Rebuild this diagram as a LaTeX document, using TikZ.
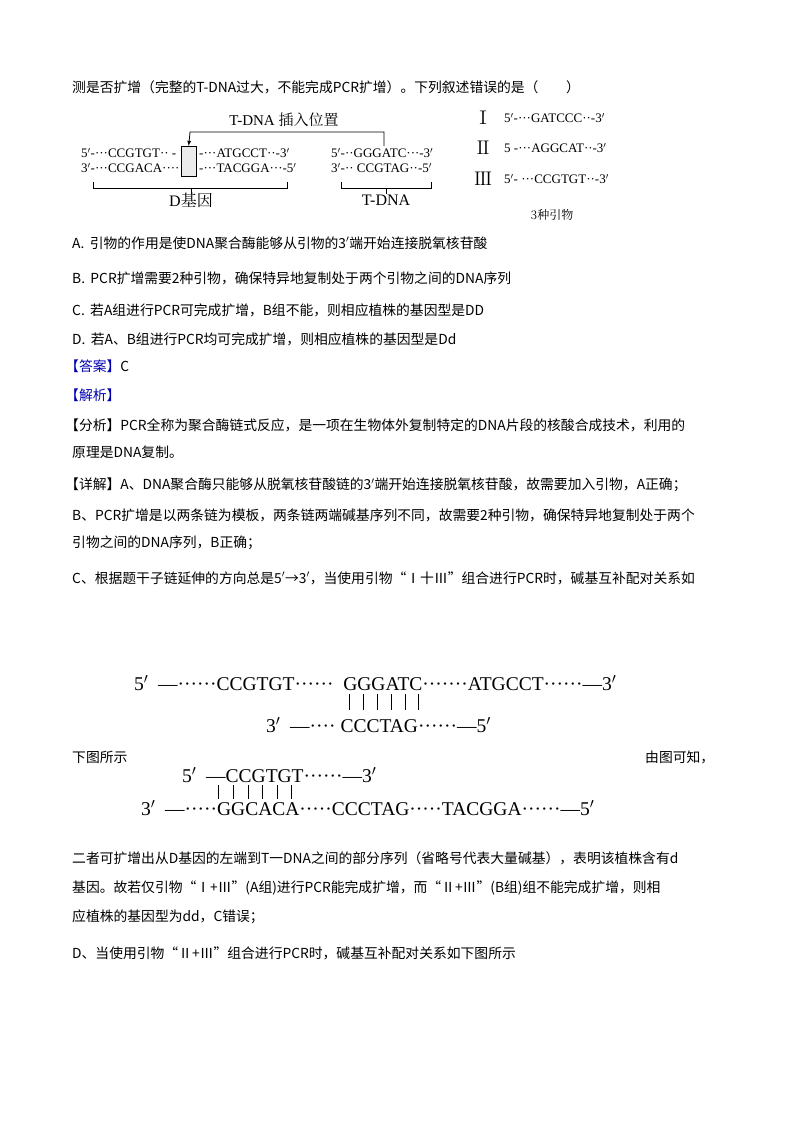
\documentclass[tikz,border=0pt]{standalone}
\usepackage{fontspec}
\setmainfont{Noto Sans CJK SC}
\newfontfamily\ser{Liberation Serif}
\newfontfamily\cser{Noto Serif CJK SC}
\begin{document}
\begin{tikzpicture}[x=1pt,y=-1pt,
  body/.style={anchor=west,inner sep=0pt,font=\fontsize{13.8}{15}\selectfont},
  seq/.style={inner sep=0pt,font=\ser\fontsize{13}{15}\selectfont},
  dna/.style={inner sep=0pt,anchor=west,font=\ser\fontsize{19.5}{21}\selectfont},
  bar/.style={line width=0.6pt},
  brk/.style={line width=0.8pt}]
\useasboundingbox[fill=white] (0,0) rectangle (800,1132);
\node[body] (l0) at (72,87) {测是否扩增（完整的T-DNA过大，不能完成PCR扩增）。下列叙述错误的是（　　）};
% top diagram
\node[seq,anchor=west] (d1) at (81,153) {5$'$-···CCGTGT·· -};
\node[seq,anchor=west] (d2) at (81,168) {3$'$-···CCGACA····};
\node[draw,fill=black!8,minimum width=15pt,minimum height=30pt,inner sep=0pt,anchor=north west] (box) at (181,146) {};
\node[seq,anchor=west] (d3) at (199,153) {-···ATGCCT··-3$'$};
\node[seq,anchor=west] (d4) at (199,168) {-···TACGGA···-5$'$};
\node[seq,anchor=west] (t1) at (331,153) {5$'$-··GGGATC···-3$'$};
\node[seq,anchor=west] (t2) at (331,168) {3$'$-·· CCGTAG··-5$'$};
\coordinate (tt) at (384,146);
\draw[-latex,line width=0.8pt] (tt) -- (384,132) -- (190,132) -- (box.north);
\node[seq,font=\ser\fontsize{15}{17}\selectfont] (ins) at (284,120) {T-DNA \cser 插入位置};
\draw[brk] (93,182) -- (93,188) -- (287,188) -- (287,182);
\draw[brk] (191,188) -- (191,194);
\draw[brk] (341,182) -- (341,188) -- (431,188) -- (431,182);
\draw[brk] (386,188) -- (386,194);
\node[seq,font=\ser\fontsize{16}{18}\selectfont] (dg) at (191,200) {D\cser 基因};
\node[seq,font=\ser\fontsize{16}{18}\selectfont] (td) at (386,200) {T-DNA};
\node[seq,font=\cser\fontsize{18}{20}\selectfont] (r1) at (483,118) {Ⅰ};
\node[seq,font=\cser\fontsize{18}{20}\selectfont] (r2) at (483,148) {Ⅱ};
\node[seq,font=\cser\fontsize{18}{20}\selectfont] (r3) at (483,179) {Ⅲ};
\node[seq,anchor=west] (p1) at (504,118) {5$'$-···GATCCC··-3$'$};
\node[seq,anchor=west] (p2) at (504,148) {5 -···AGGCAT··-3$'$};
\node[seq,anchor=west] (p3) at (504,179) {5$'$- ···CCGTGT··-3$'$};
\node[seq,font=\cser\fontsize{12}{14}\selectfont] (p0) at (552,215) {3种引物};
% options
\node[body] (a) at (72,243) {A.\, 引物的作用是使DNA聚合酶能够从引物的3$'$端开始连接脱氧核苷酸};
\node[body] (b) at (72,278) {B.\, PCR扩增需要2种引物，确保特异地复制处于两个引物之间的DNA序列};
\node[body] (c) at (72,310) {C.\, 若A组进行PCR可完成扩增，B组不能，则相应植株的基因型是DD};
\node[body] (d) at (72,339) {D.\, 若A、B组进行PCR均可完成扩增，则相应植株的基因型是Dd};
\node[body] (ans) at (65,366) {\textcolor{blue!70!black}{【答案】}C};
\node[body] (jx) at (65,395) {\textcolor{blue!70!black}{【解析】}};
\node[body] (fx) at (65,425) {【分析】PCR全称为聚合酶链式反应，是一项在生物体外复制特定的DNA片段的核酸合成技术，利用的};
\node[body] (fx2) at (72,452) {原理是DNA复制。};
\node[body] (xj) at (65,485) {【详解】A、DNA聚合酶只能够从脱氧核苷酸链的3$'$端开始连接脱氧核苷酸，故需要加入引物，A正确；};
\node[body] (xj2) at (72,515) {B、PCR扩增是以两条链为模板，两条链两端碱基序列不同，故需要2种引物，确保特异地复制处于两个};
\node[body] (xj3) at (72,543) {引物之间的DNA序列，B正确；};
\node[body] (xj4) at (72,578) {C、根据题干子链延伸的方向总是5$'$→3$'$，当使用引物“Ⅰ十Ⅲ”组合进行PCR时，碱基互补配对关系如};
% diagram 2
\node[dna] (s1) at (134,683) {5$'$\ \ —······CCGTGT······\ \ GGGATC·······ATGCCT······—3$'$};
\foreach \x in {349,363,377,391,405,418} \draw[bar] (\x,694) -- (\x,710);
\node[dna] (s2) at (266,725) {3$'$\ \ —····\ CCCTAG······—5$'$};
\node[body] (xt) at (72,757) {下图所示};
\node[body] (yt) at (645,757) {由图可知，};
\node[dna] (s3) at (182,775) {5$'$\ \ —CCGTGT······—3$'$};
\foreach \x in {218,233,248,262,277,291} \draw[bar] (\x,785) -- (\x,799);
\node[dna] (s4) at (141,808) {3$'$\ \ —·····GGCACA·····CCCTAG·····TACGGA······—5$'$};
\node[body] (e1) at (72,858) {二者可扩增出从D基因的左端到T一DNA之间的部分序列（省略号代表大量碱基），表明该植株含有d};
\node[body] (e2) at (72,888) {基因。故若仅引物“Ⅰ+Ⅲ”(A组)进行PCR能完成扩增，而“Ⅱ+Ⅲ”(B组)组不能完成扩增，则相};
\node[body] (e3) at (72,917) {应植株的基因型为dd，C错误；};
\node[body] (e4) at (72,953) {D、当使用引物“Ⅱ+Ⅲ”组合进行PCR时，碱基互补配对关系如下图所示};
\end{tikzpicture}
\end{document}
